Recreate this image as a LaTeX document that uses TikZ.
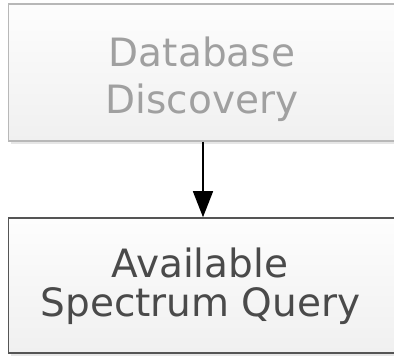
\documentclass[tikz,border=0pt]{standalone}
\usepackage{fontspec}
\setmainfont{DejaVu Sans}
\usetikzlibrary{arrows.meta,shadows}
\definecolor{faintborder}{HTML}{B8B8B8}
\definecolor{darkborder}{HTML}{555555}
\definecolor{fainttext}{HTML}{A0A0A0}
\definecolor{darktext}{HTML}{4A4A4A}
\definecolor{boxfillA}{HTML}{FDFDFD}
\definecolor{boxfillB}{HTML}{F0F0F0}
\tikzset{
  stepbox/.style={rectangle, inner sep=0pt, minimum width=389pt,
    top color=boxfillA, bottom color=boxfillB,
    drop shadow={shadow xshift=2.5pt, shadow yshift=-2.5pt, opacity=0.2}},
  fadedbox/.style={stepbox, draw=faintborder, line width=1.6pt, minimum height=137pt},
  activebox/.style={stepbox, draw=darkborder, line width=1.6pt, minimum height=135pt},
  boxtext/.style={anchor=base, inner sep=0pt, font=\fontsize{39pt}{39pt}\selectfont},
  flow/.style={draw=black, line width=1.5pt, -{Triangle[width=20pt,length=26pt]}}
}
\begin{document}
\begin{tikzpicture}[x=1pt,y=-1pt]
\useasboundingbox (0,0) rectangle (394,359);
\begin{scope}
\clip (0,0) rectangle (394,359);
\node[fadedbox] (db) at (203,72.5) {};
\node[activebox] (asq) at (203,285.5) {};
\end{scope}
\node[boxtext, text=fainttext] (db1) at (202,66) {Database};
\node[boxtext, text=fainttext] (db2) at (202,113) {Discovery};
\node[boxtext, text=darktext] (asq1) at (200,277) {Available};
\node[boxtext, text=darktext] (asq2) at (200.5,316) {Spectrum Query};
\draw[flow] (db) -- (asq);
\end{tikzpicture}
\end{document}
